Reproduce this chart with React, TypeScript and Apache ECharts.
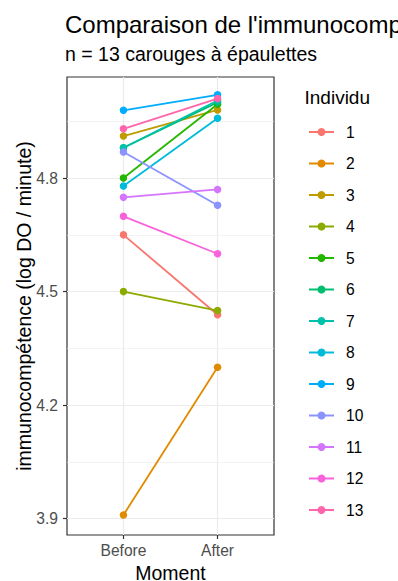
import React, { useEffect, useRef } from "react";
import * as echarts from "echarts";

const moments = ["Before", "After"];
const individus = ["1", "2", "3", "4", "5", "6", "7", "8", "9", "10", "11", "12", "13"];
const beforeValues = [4.65, 3.91, 4.911, 4.5, 4.8, 4.88, 4.88, 4.779, 4.979, 4.869, 4.749, 4.699, 4.93];
const afterValues = [4.439, 4.3, 4.98, 4.45, 4.995, 5.0, 5.005, 4.958, 5.02, 4.728, 4.77, 4.6, 5.01];
const colors = [
  "#F8766D", "#E18A00", "#BE9C00", "#8CAB00", "#24B700", "#00BE70", "#00C1AB",
  "#00BBDA", "#00ACFC", "#8B93FF", "#D575FE", "#F962DD", "#FF65AC",
];
const yTicks = [3.9, 4.2, 4.5, 4.8];
const yMinor = [4.05, 4.35, 4.65, 4.95];

const FONT = "'Liberation Sans', Arial, Helvetica, sans-serif";

export default function App() {
  const ref = useRef<HTMLDivElement>(null);
  useEffect(() => {
    if (!ref.current) return;
    const chart = echarts.init(ref.current, undefined, { renderer: "svg" });
    const gridLines: any[] = [];
    yTicks.forEach((v) => gridLines.push({ yAxis: v, lineStyle: { width: 1.2 } }));
    yMinor.forEach((v) => gridLines.push({ yAxis: v, lineStyle: { width: 0.6 } }));
    [1, 2].forEach((v) => gridLines.push({ xAxis: v, lineStyle: { width: 1.2 } }));

    const series: any[] = [
      {
        name: "grid",
        type: "line",
        data: [],
        z: 1,
        silent: true,
        markLine: {
          silent: true,
          symbol: "none",
          label: { show: false },
          lineStyle: { color: "#EBEBEB", type: "solid" },
          emphasis: { disabled: true },
          data: gridLines,
        },
      },
    ];
    individus.forEach((name, i) => {
      series.push({
        name,
        type: "line",
        z: 5,
        data: [
          [1, beforeValues[i]],
          [2, afterValues[i]],
        ],
        symbol: "circle",
        symbolSize: 7.5,
        showSymbol: true,
        lineStyle: { width: 1.8, color: colors[i] },
        itemStyle: { color: colors[i] },
        emphasis: { disabled: true },
      });
    });

    chart.setOption({
      animation: false,
      backgroundColor: "#ffffff",
      textStyle: { fontFamily: FONT },
      title: [
        {
          text: "Comparaison de l'immunocompétence",
          left: 65,
          top: 12,
          padding: 0,
          textStyle: { fontFamily: FONT, fontSize: 24, fontWeight: "normal", color: "#000000" },
        },
        {
          text: "n = 13 carouges à épaulettes",
          left: 65,
          top: 44,
          padding: 0,
          textStyle: { fontFamily: FONT, fontSize: 19.5, fontWeight: "normal", color: "#000000" },
        },
      ],
      grid: {
        left: 67,
        right: 124,
        top: 77,
        bottom: 46,
        show: true,
        backgroundColor: "#ffffff",
        borderColor: "#333333",
        borderWidth: 1.2,
      },
      xAxis: {
        type: "value",
        min: 0.4,
        max: 2.6,
        axisLine: { show: false },
        splitLine: { show: false },
        axisTick: { show: true, length: 4, customValues: [1, 2], lineStyle: { color: "#333333", width: 1.2 } },
        axisLabel: {
          customValues: [1, 2],
          margin: 7,
          color: "#4D4D4D",
          fontSize: 15.6,
          fontFamily: FONT,
          formatter: (v: number) => moments[Math.round(v) - 1] ?? "",
        },
      },
      yAxis: {
        type: "value",
        min: 3.857,
        max: 5.067,
        axisLine: { show: false },
        splitLine: { show: false },
        axisTick: { show: true, length: 4, customValues: yTicks, lineStyle: { color: "#333333", width: 1.2 } },
        axisLabel: {
          customValues: yTicks,
          margin: 9,
          color: "#4D4D4D",
          fontSize: 15.6,
          fontFamily: FONT,
          formatter: (v: number) => v.toFixed(1),
        },
      },
      legend: {
        data: individus,
        orient: "vertical",
        left: 308,
        top: 124,
        padding: 0,
        itemWidth: 25,
        itemHeight: 10,
        itemGap: 15.5,
        textStyle: { fontFamily: FONT, fontSize: 15.6, color: "#000000", lineHeight: 16, padding: [0, 0, 0, 7] },
        selectedMode: false,
      },
      graphic: [
        {
          type: "text",
          left: 304.5,
          top: 88,
          style: { text: "Individu", font: `19px ${FONT}`, fill: "#000000" },
        },
        {
          type: "text",
          x: 170.5,
          y: 572.5,
          style: {
            text: "Moment",
            font: `19.5px ${FONT}`,
            lineHeight: 16,
            fill: "#000000",
            align: "center",
            verticalAlign: "middle",
          },
        },
        {
          type: "text",
          x: 23.5,
          y: 306,
          rotation: Math.PI / 2,
          style: {
            text: "immunocompétence (log DO / minute)",
            font: `19.5px ${FONT}`,
            fill: "#000000",
            align: "center",
            verticalAlign: "middle",
          },
        },
      ],
      series,
    });
    return () => chart.dispose();
  }, []);
  return <div ref={ref} style={{ position: "absolute", left: 0, top: 0, width: 398, height: 581 }} />;
}
